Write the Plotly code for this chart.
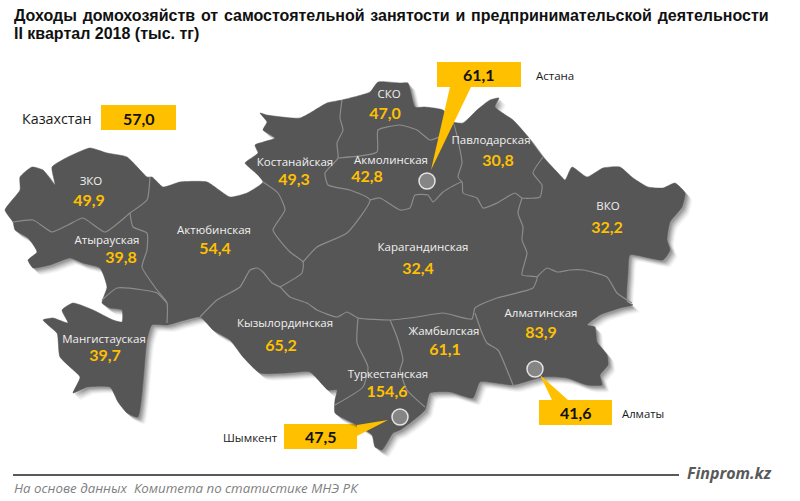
import plotly.graph_objects as go

# region names and values
regions = ["ЗКО", "Атырауская", "Актюбинская", "Костанайская", "СКО", "Акмолинская", "Павлодарская", "ВКО",
           "Карагандинская", "Мангистауская", "Кызылординская", "Туркестанская", "Жамбылская", "Алматинская"]
values = ["49,9", "39,8", "54,4", "49,3", "47,0", "42,8", "30,8", "32,2", "32,4", "39,7", "65,2", "154,6", "61,1", "83,9"]
name_x = [91, 107, 214, 295, 389, 391, 491, 608, 423, 104, 285, 388, 444, 541]
name_y = [182, 241, 231, 163, 95, 161, 141, 207, 248, 340, 324, 375, 332, 314]
value_x = [89, 121, 215, 294, 385, 367, 498, 607, 418, 105, 281, 387, 445, 541]
value_y = [202, 259, 250, 181, 115, 178, 162, 229, 270, 357, 347, 393, 351, 334]

# outline of the country, in picture pixels
outline = [
    (260, 113), (267, 115), (300, 118), (327, 103), (342, 100), (370, 92), (378, 82), (400, 83), (408, 83), (415, 107),
    (425, 107), (443, 110), (453, 122), (463, 123), (477, 110), (490, 100), (499, 98), (495, 107), (513, 120), (528, 137),
    (543, 157), (557, 172), (565, 180), (572, 167), (587, 177), (603, 168), (620, 167), (633, 178), (648, 187), (663, 188),
    (675, 183), (685, 193), (682, 207), (670, 222), (667, 240), (670, 250), (663, 260), (630, 255), (628, 273), (627, 302),
    (633, 305), (620, 308), (600, 315), (587, 325), (595, 327), (597, 342), (607, 355), (608, 365), (600, 375), (602, 385),
    (587, 385), (567, 378), (543, 377), (513, 385), (480, 382), (473, 398), (450, 392), (430, 393), (425, 410), (410, 423),
    (400, 430), (393, 433), (382, 450), (375, 447), (372, 435), (357, 425), (335, 413), (335, 400), (337, 390), (328, 390),
    (310, 372), (287, 373), (260, 373), (243, 357), (230, 340), (213, 330), (200, 317), (167, 325), (152, 325), (147, 340),
    (138, 417), (127, 413), (118, 402), (110, 387), (87, 387), (73, 393), (80, 377), (60, 357), (57, 333), (43, 320),
    (53, 318), (68, 323), (62, 310), (73, 303), (93, 310), (113, 320), (122, 322), (122, 310), (110, 308), (102, 303),
    (107, 287), (100, 268), (83, 263), (70, 258), (50, 265), (33, 268), (28, 260), (37, 252), (28, 238), (15, 230),
    (13, 222), (5, 210), (20, 190), (20, 177), (32, 167), (43, 170), (55, 185), (52, 167), (68, 157), (90, 148),
    (107, 153), (127, 157), (147, 177), (152, 177), (163, 187), (180, 182), (207, 182), (230, 197), (247, 193), (263, 182),
    (255, 172), (245, 163), (258, 153), (255, 145), (275, 138), (263, 130), (267, 122), (260, 113),
]

# borders between the regions
borders = [
    [(13, 222), (33, 220), (52, 232), (68, 225), (83, 218), (105, 232), (130, 213), (147, 200), (150, 177)],
    [(130, 213), (133, 227), (147, 233), (147, 250), (142, 267), (157, 290), (167, 303), (167, 323)],
    [(102, 300), (117, 288), (143, 290), (157, 293), (167, 303)],
    [(200, 317), (217, 300), (240, 287), (250, 270), (257, 268), (263, 272), (272, 283), (280, 287), (290, 297), (307, 303),
     (317, 310), (337, 317), (347, 312), (358, 318), (390, 320), (417, 317), (443, 313), (472, 319), (475, 308), (497, 298),
     (533, 288), (537, 277), (522, 275), (527, 253), (522, 240), (523, 227), (518, 213), (522, 198)],
    [(263, 182), (278, 193), (285, 210), (273, 230), (290, 252), (303, 262), (302, 273), (280, 287)],
    [(303, 262), (317, 247), (347, 233), (370, 200), (350, 190), (328, 185), (325, 173), (338, 158), (337, 143), (343, 130),
     (340, 118), (342, 100)],
    [(338, 158), (377, 152), (378, 130), (400, 125), (417, 130), (430, 140), (443, 135), (453, 123), (460, 150), (462, 163),
     (458, 177), (462, 182)],
    [(370, 200), (380, 198), (400, 210), (410, 208), (415, 195), (428, 195), (433, 202), (443, 192), (462, 182), (463, 193),
     (477, 198), (483, 208), (497, 203), (515, 193), (522, 198), (540, 197), (542, 185), (533, 173), (543, 157)],
    [(537, 277), (547, 268), (557, 272), (570, 270), (583, 270), (607, 277), (617, 293), (632, 303)],
    [(475, 313), (482, 333), (487, 343), (498, 350), (507, 370), (513, 385)],
    [(390, 320), (397, 337), (403, 360), (400, 370), (407, 390), (425, 407)],
    [(358, 318), (357, 343), (368, 367), (363, 387), (335, 405)],
]

# callouts for the cities
city_names = ["Астана", "Алматы", "Шымкент"]
city_values = ["61,1", "41,6", "47,5"]
city_x = [427, 535, 400]
city_y = [181, 369, 417]
pointers = [
    [(450, 87), (471, 87), (431, 170)],
    [(552, 400), (568, 400), (540, 375)],
    [(357, 425), (357, 436), (388, 420)],
]
boxes = [(437, 62, 521, 87), (539, 400, 612, 425), (284, 424, 357, 449)]

GOLD = "#ffc000"
MAP = "#565656"
LINE = "#8c8c8c"

fig = go.Figure()

# soft shadow under the map
for dx, dy, op in [(7, 7, 0.05), (6, 6, 0.07), (5, 5, 0.1), (4, 4, 0.13), (3, 3, 0.16), (2, 2, 0.2)]:
    fig.add_trace(go.Scatter(x=[p[0] + dx for p in outline], y=[p[1] + dy for p in outline], mode="lines",
                             fill="toself", fillcolor=f"rgba(70,70,70,{op})", line=dict(width=0, shape="spline", smoothing=0.5)))

fig.add_trace(go.Scatter(x=[p[0] for p in outline], y=[p[1] for p in outline], mode="lines",
                         fill="toself", fillcolor=MAP, line=dict(width=0.5, color=MAP, shape="spline", smoothing=0.5)))

edge_x = []
edge_y = []
for b in borders:
    edge_x.extend([p[0] for p in b] + [None])
    edge_y.extend([p[1] for p in b] + [None])
fig.add_trace(go.Scatter(x=edge_x, y=edge_y, mode="lines", line=dict(width=1.2, color=LINE, shape="spline", smoothing=0.5)))

for p in pointers:
    fig.add_trace(go.Scatter(x=[q[0] for q in p], y=[q[1] for q in p], mode="lines", fill="toself",
                             fillcolor=GOLD, line=dict(width=0)))

fig.add_trace(go.Scatter(x=city_x, y=city_y, mode="markers",
                         marker=dict(size=16, color="#858585", line=dict(width=1.5, color="#e4e4e4"))))

fig.add_trace(go.Scatter(x=name_x, y=name_y, mode="text", text=regions,
                         textfont=dict(family="Open Sans", size=11.5, color="#f0f0f0")))
fig.add_trace(go.Scatter(x=value_x, y=value_y, mode="text", text=values,
                         textfont=dict(family="Lato", size=16, color=GOLD, weight="bold")))

shapes = []
for b in boxes + [(101, 105, 176, 130)]:
    shapes.append(dict(type="rect", x0=b[0], y0=b[1], x1=b[2], y1=b[3], fillcolor=GOLD, line=dict(width=0), layer="below"))
shapes.append(dict(type="line", x0=13, x1=679, y0=475, y1=475, line=dict(width=2, color="#595959")))


def note(x, y, text, size, color="#1a1a1a", family="Open Sans", anchor="left", bold=False):
    fig.add_annotation(x=x, y=y, text=f"<b>{text}</b>" if bold else text, showarrow=False, xanchor=anchor, yanchor="middle",
                       font=dict(family=family, size=size, color=color))


# the first title line is justified in the picture, hence the wider gaps
title_line = "Доходы домохозяйств от самостоятельной занятости и предпринимательской деятельности".replace(" ", " \u200a")
note(12, 15, title_line, 16, "#111111", "Liberation Sans", bold=True)
note(12, 33, "II квартал 2018 (тыс. тг)", 16, "#111111", "Liberation Sans", bold=True)
note(20, 118, "Казахстан", 14.3)
note(138.5, 118, "57,0", 16, "#111111", "Lato", "center", True)
note(534, 75, "Астана", 11.5)
note(620, 413, "Алматы", 11.3)
note(221, 437, "Шымкент", 11.5)
for b, v in zip(boxes, city_values):
    note((b[0] + b[2]) / 2, (b[1] + b[3]) / 2, v, 16, "#111111", "Lato", "center", True)
note(12, 488, "<i>На основе данных  Комитета по статистике МНЭ РК</i>", 13.3, "#7f7f7f")
note(685, 473, "<i>Finprom.kz</i>", 16, "#595959", "Open Sans", bold=True)

fig.update_layout(
    width=800, height=501, margin=dict(l=0, r=0, t=0, b=0), showlegend=False,
    paper_bgcolor="white", plot_bgcolor="white", shapes=shapes,
    xaxis=dict(range=[0, 800], visible=False),
    yaxis=dict(range=[501, 0], visible=False),
)

fig.write_html("out.html", config={"displayModeBar": False}, post_script="document.body.style.margin='0';")
